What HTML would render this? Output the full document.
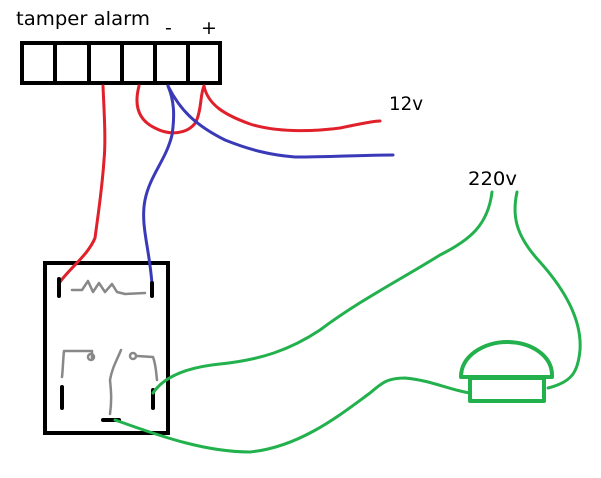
<!DOCTYPE html>
<html><head><meta charset="utf-8"><style>
html,body{margin:0;padding:0;background:#fff;}
svg{display:block;}
text{font-family:"DejaVu Sans","Liberation Sans",sans-serif;fill:#000;}
</style></head><body>
<svg width="601" height="478" viewBox="0 0 601 478" xmlns="http://www.w3.org/2000/svg">
<rect width="601" height="478" fill="#fff"/>
<text x="16" y="25" font-size="19" textLength="134" lengthAdjust="spacingAndGlyphs">tamper alarm</text>
<text x="165" y="34" font-size="19">-</text>
<text x="201" y="34" font-size="19">+</text>
<text x="389" y="110" font-size="19" textLength="34" lengthAdjust="spacingAndGlyphs">12v</text>
<text x="468" y="185" font-size="19" textLength="49" lengthAdjust="spacingAndGlyphs">220v</text>
<g fill="none" stroke="#000" stroke-width="4">
<rect x="22" y="43" width="198" height="40"/>
<line x1="55" y1="43" x2="55" y2="83"/>
<line x1="89" y1="43" x2="89" y2="83"/>
<line x1="122" y1="43" x2="122" y2="83"/>
<line x1="155" y1="43" x2="155" y2="83"/>
<line x1="188" y1="43" x2="188" y2="83"/>
<rect x="45" y="263" width="123" height="170"/>
</g>
<g fill="none" stroke-linecap="round" stroke-linejoin="round">
<path d="M103 86 C104 110 106 140 104 160 C102 190 98 215 95 238 C88 255 70 268 60 282" stroke="#e0202a" stroke-width="3"/>
<path d="M139 86 C134 105 138 120 155 128 C170 136 188 134 196 122 C202 108 200 95 204 86" stroke="#e0202a" stroke-width="3"/>
<path d="M204 86 C208 105 225 115 250 124 C275 132 310 132 340 128 C360 124 372 121 380 121" stroke="#e0202a" stroke-width="3"/>
<path d="M168 86 C174 100 175 115 172 135 C166 160 150 175 145 200 C140 225 150 250 152 285" stroke="#3a3ab8" stroke-width="3"/>
<path d="M168 86 C180 110 195 125 225 140 C250 150 270 155 295 157 C330 157 360 155 393 155" stroke="#3a3ab8" stroke-width="3"/>
<g stroke="#000" stroke-width="4">
<line x1="59" y1="279" x2="59" y2="296"/>
<line x1="152" y1="283" x2="152" y2="296"/>
<line x1="62" y1="387" x2="62" y2="408"/>
<line x1="153" y1="390" x2="153" y2="408"/>
<line x1="103" y1="420" x2="119" y2="420"/>
</g>
<g stroke="#888" stroke-width="2.5">
<path d="M72 290 L82 290 L88 281 L93 292 L99 283 L105 292 L112 284 L117 292 L125 294 L145 293"/>
<path d="M62 377 C63 368 63 360 64 351 L92 351 L92 358"/>
<circle cx="91" cy="357" r="3"/>
<path d="M110 414 C112 400 111 390 110 380 C112 368 117 360 121 350"/>
<circle cx="133" cy="356" r="3"/>
<path d="M137 356 L153 357 C156 365 156 372 157 380"/>
</g>
<g stroke="#22b14c" stroke-width="3">
<path d="M153 393 C165 375 190 367 220 364 C260 360 290 350 320 330 C360 300 400 280 440 255 C470 240 488 225 492 192"/>
<path d="M517 192 C512 215 515 235 540 262 C565 290 582 320 580 350 C578 372 572 382 548 388"/>
<path d="M115 420 C150 432 200 452 250 452 C300 447 340 415 370 393 C380 385 385 378 405 378 C430 380 450 390 470 393"/>
<rect x="470" y="378" width="74" height="23" stroke-width="4"/>
<path d="M461 377 C461 355 485 342 507 342 C530 342 553 355 552 377 Z" stroke-width="4"/>
</g>
</g>
</svg>
</body></html>
